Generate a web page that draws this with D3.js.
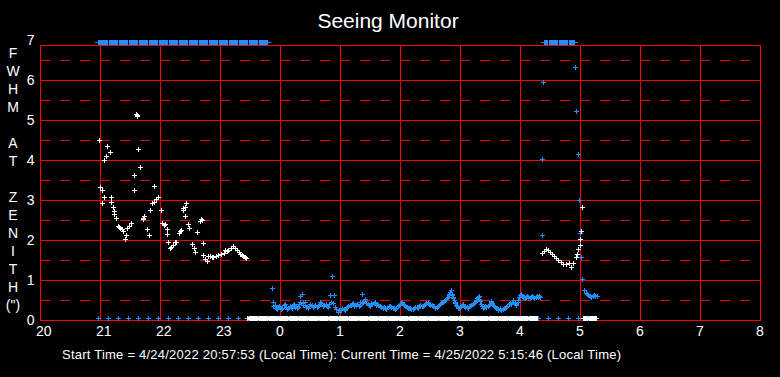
<!DOCTYPE html>
<html>
<head>
<meta charset="utf-8">
<script src="https://cdn.jsdelivr.net/npm/d3@7"></script>
<style>
  body { margin: 0; background: #000; }
  svg { display: block; }
  text { font-family: "Liberation Sans", Arial, sans-serif; fill: #fff; }
</style>
</head>
<body>
<svg id="chart" width="780" height="377"></svg>
<script>
// time is hours counted from midnight of 4/24 (24.5 = 0:30 on 4/25)
const hourTicks = [20, 21, 22, 23, 24, 25, 26, 27, 28, 29, 30, 31, 32];
const fwhmTicks = [0, 1, 2, 3, 4, 5, 6, 7];
const halfTicks = [0.5, 1.5, 2.5, 3.5, 4.5, 5.5, 6.5];
const yTitle = ['F', 'W', 'H', 'M', '', 'A', 'T', '', 'Z', 'E', 'N', 'I', 'T', 'H', '(")'];

// evening session (white)
const whitePts = [
  [20.99, 4.50], [21.00, 3.32], [21.03, 3.25], [21.04, 2.92], [21.06, 3.07], [21.07, 4.00],
  [21.10, 4.10], [21.12, 4.35], [21.16, 4.19], [21.18, 2.94], [21.19, 3.07], [21.21, 2.83],
  [21.23, 2.72], [21.24, 2.64], [21.26, 2.54], [21.30, 2.36], [21.32, 2.33], [21.34, 2.30],
  [21.37, 2.28], [21.39, 2.22], [21.42, 2.02], [21.43, 2.12], [21.45, 2.30], [21.48, 2.35],
  [21.52, 2.43], [21.56, 3.24], [21.57, 3.62], [21.60, 5.15], [21.62, 5.12], [21.61, 5.10],
  [21.64, 4.27], [21.67, 3.82], [21.71, 2.55], [21.72, 2.52], [21.73, 2.59], [21.78, 2.27],
  [21.81, 2.12], [21.84, 2.75], [21.87, 2.92], [21.90, 2.96], [21.90, 3.35], [21.94, 3.02],
  [21.97, 3.08], [22.01, 2.75], [22.04, 2.42], [22.06, 2.38], [22.08, 2.40], [22.11, 2.27],
  [22.12, 2.14], [22.14, 1.96], [22.17, 1.79], [22.19, 1.83], [22.21, 1.88], [22.25, 1.96],
  [22.27, 1.96], [22.31, 2.17], [22.33, 2.22], [22.35, 2.25], [22.38, 2.75], [22.39, 2.79],
  [22.41, 2.60], [22.41, 2.83], [22.43, 2.92], [22.46, 2.40], [22.48, 2.29], [22.53, 1.90],
  [22.56, 1.79], [22.58, 1.71], [22.62, 2.19], [22.66, 2.48], [22.68, 2.52], [22.70, 2.50],
  [22.72, 1.92], [22.72, 1.62], [22.75, 1.52], [22.78, 1.48], [22.80, 1.60], [22.83, 1.60],
  [22.86, 1.58], [22.89, 1.58], [22.93, 1.60], [22.97, 1.62], [23.01, 1.65], [23.06, 1.67],
  [23.08, 1.75], [23.11, 1.72], [23.14, 1.75], [23.18, 1.80], [23.22, 1.86], [23.25, 1.80],
  [23.28, 1.75], [23.31, 1.70], [23.33, 1.65], [23.36, 1.62], [23.39, 1.60], [23.42, 1.57],
  [23.44, 1.54]
];

// morning session (white)
const whitePts2 = [
  [28.36, 1.67], [28.40, 1.72], [28.44, 1.77], [28.47, 1.74], [28.50, 1.71], [28.53, 1.66],
  [28.56, 1.60], [28.60, 1.55], [28.64, 1.50], [28.68, 1.45], [28.72, 1.39], [28.76, 1.40],
  [28.81, 1.42], [28.85, 1.32], [28.89, 1.42], [28.93, 1.57], [28.95, 1.66], [28.97, 1.77],
  [29.00, 1.88], [29.00, 2.02], [29.02, 2.23], [29.04, 2.82]
];

// night series (blue)
const bluePts = [
  [23.86, 0.79], [23.89, 0.46], [23.89, 0.35], [23.93, 0.30], [23.97, 0.32], [24.01, 0.27],
  [24.06, 0.37], [24.10, 0.33], [24.14, 0.29], [24.18, 0.33], [24.22, 0.37], [24.25, 0.33],
  [24.28, 0.29], [24.31, 0.40], [24.33, 0.60], [24.36, 0.65], [24.39, 0.42], [24.42, 0.37],
  [24.44, 0.33], [24.48, 0.36], [24.53, 0.37], [24.57, 0.35], [24.61, 0.33], [24.65, 0.38],
  [24.69, 0.42], [24.73, 0.38], [24.78, 0.35], [24.81, 0.40], [24.83, 0.62], [24.86, 1.10],
  [24.88, 0.42], [24.90, 0.62], [24.92, 0.33], [24.97, 0.21], [25.01, 0.24], [25.06, 0.27],
  [25.10, 0.31], [25.14, 0.35], [25.18, 0.38], [25.22, 0.42], [25.26, 0.38], [25.31, 0.35],
  [25.34, 0.45], [25.36, 0.65], [25.39, 0.46], [25.42, 0.52], [25.46, 0.40], [25.50, 0.35],
  [25.54, 0.40], [25.58, 0.46], [25.62, 0.40], [25.67, 0.35], [25.71, 0.31], [25.75, 0.29],
  [25.79, 0.32], [25.83, 0.35], [25.88, 0.30], [25.92, 0.27], [25.96, 0.35], [26.00, 0.40],
  [26.03, 0.46], [26.07, 0.38], [26.11, 0.33], [26.15, 0.29], [26.19, 0.27], [26.23, 0.30],
  [26.28, 0.33], [26.32, 0.34], [26.36, 0.35], [26.40, 0.38], [26.44, 0.42], [26.48, 0.40],
  [26.53, 0.37], [26.57, 0.35], [26.61, 0.32], [26.65, 0.37], [26.69, 0.42], [26.72, 0.46],
  [26.75, 0.50], [26.78, 0.56], [26.81, 0.62], [26.83, 0.71], [26.86, 0.66], [26.88, 0.58],
  [26.90, 0.50], [26.92, 0.42], [26.95, 0.34], [26.97, 0.29], [27.00, 0.33], [27.03, 0.37],
  [27.07, 0.35], [27.11, 0.32], [27.15, 0.34], [27.19, 0.37], [27.23, 0.42], [27.26, 0.48],
  [27.28, 0.54], [27.31, 0.60], [27.33, 0.47], [27.36, 0.35], [27.40, 0.33], [27.44, 0.32],
  [27.48, 0.37], [27.51, 0.44], [27.53, 0.42], [27.57, 0.35], [27.61, 0.29], [27.64, 0.28],
  [27.67, 0.27], [27.71, 0.28], [27.75, 0.29], [27.79, 0.36], [27.83, 0.42], [27.86, 0.44],
  [27.89, 0.46], [27.92, 0.42], [27.94, 0.37], [27.97, 0.50], [28.00, 0.62], [28.03, 0.60],
  [28.06, 0.57], [28.10, 0.57], [28.14, 0.57], [28.18, 0.58], [28.22, 0.57], [28.26, 0.58],
  [28.30, 0.57], [28.33, 0.57],
  [28.36, 2.12], [28.37, 4.02], [28.39, 5.94], [28.92, 6.32], [28.94, 5.23], [28.97, 4.14],
  [28.99, 3.00], [29.00, 2.17], [29.02, 1.57], [29.03, 1.02], [29.06, 0.75], [29.10, 0.67],
  [29.14, 0.62], [29.17, 0.60], [29.21, 0.60], [29.25, 0.61], [29.28, 0.60]
];

// the in-between blue readings of the night (the ribbon is ~1 reading/min)
const bluePtsFill = [
  [23.91, 0.38], [23.95, 0.27], [23.99, 0.35], [24.03, 0.31], [24.08, 0.40], [24.12, 0.27],
  [24.16, 0.35], [24.20, 0.30], [24.24, 0.40], [24.27, 0.36], [24.30, 0.33], [24.34, 0.45],
  [24.38, 0.37], [24.41, 0.44], [24.46, 0.31], [24.50, 0.40], [24.55, 0.33], [24.59, 0.38],
  [24.63, 0.35], [24.67, 0.44], [24.71, 0.36], [24.76, 0.39], [24.80, 0.32], [24.85, 0.45],
  [24.94, 0.27], [24.99, 0.25], [25.03, 0.30], [25.08, 0.24], [25.12, 0.33], [25.16, 0.38],
  [25.20, 0.40], [25.24, 0.36], [25.28, 0.40], [25.33, 0.38], [25.37, 0.42], [25.41, 0.48],
  [25.44, 0.42], [25.48, 0.37], [25.52, 0.42], [25.56, 0.43], [25.60, 0.38], [25.64, 0.37],
  [25.69, 0.33], [25.73, 0.33], [25.77, 0.27], [25.81, 0.35], [25.85, 0.32], [25.90, 0.29],
  [25.94, 0.31], [25.98, 0.38], [26.02, 0.42], [26.05, 0.41], [26.09, 0.35], [26.13, 0.31],
  [26.17, 0.30], [26.21, 0.28], [26.25, 0.32], [26.30, 0.31], [26.34, 0.37], [26.38, 0.36],
  [26.42, 0.40], [26.46, 0.44], [26.50, 0.38], [26.55, 0.34], [26.59, 0.31], [26.63, 0.34],
  [26.67, 0.40], [26.70, 0.44], [26.74, 0.48], [26.77, 0.52], [26.80, 0.58], [26.82, 0.66],
  [26.85, 0.74], [26.87, 0.62], [26.89, 0.54], [26.91, 0.46], [26.94, 0.38], [26.96, 0.31],
  [26.99, 0.31], [27.02, 0.35], [27.05, 0.39], [27.09, 0.33], [27.13, 0.30], [27.17, 0.36],
  [27.21, 0.40], [27.25, 0.45], [27.27, 0.51], [27.30, 0.57], [27.32, 0.52], [27.35, 0.40],
  [27.38, 0.31], [27.42, 0.35], [27.46, 0.34], [27.50, 0.40], [27.52, 0.47], [27.55, 0.38],
  [27.59, 0.32], [27.63, 0.26], [27.66, 0.30], [27.69, 0.25], [27.73, 0.31], [27.77, 0.33],
  [27.81, 0.39], [27.85, 0.40], [27.88, 0.49], [27.91, 0.44], [27.93, 0.40], [27.96, 0.44],
  [27.99, 0.57], [28.02, 0.64], [28.05, 0.58], [28.08, 0.55], [28.12, 0.59], [28.16, 0.56],
  [28.20, 0.59], [28.24, 0.56], [28.28, 0.59], [28.32, 0.59],
  [29.12, 0.64], [29.19, 0.58], [29.23, 0.62]
];

// blue readings pinned at zero (one each ~10 min)
const zeroTimes = [
  20.97, 21.13, 21.30, 21.47, 21.63, 21.80, 21.97, 22.13, 22.30, 22.47, 22.63, 22.80,
  22.97, 23.13, 23.30, 23.47, 23.63, 23.80, 23.97, 24.13, 24.30, 24.47, 24.63, 24.80,
  24.97, 25.13, 25.30, 25.47, 25.63, 25.80, 25.97, 26.13, 26.30, 26.47, 26.63, 26.80,
  26.97, 27.13, 27.30, 27.47, 27.63, 27.80, 27.97, 28.13, 28.30, 28.47, 28.63, 28.80,
  28.97, 29.13
];
const zeroValue = 0.05;
// runs of white readings pinned at zero
const whiteZeroRuns = [[23.45, 28.30], [29.05, 29.28]];
// runs of blue readings pinned at top of scale
const topValue = 6.94;
const blueTopRuns = [[20.95, 23.82], [28.38, 28.93]];

const svg = d3.select('#chart');
const W = 780, H = 377;
const plotLeft = 40, plotRight = 760, plotTop = 45, plotBottom = 320;
const RED = '#ff0000', BLUE = '#1e90ff', WHITE = '#ffffff';

svg.append('rect').attr('width', W).attr('height', H).attr('fill', '#000');

const x = d3.scaleLinear().domain([20, 32]).range([plotLeft, plotRight]);
const y = d3.scaleLinear().domain([0, 7]).range([plotBottom, 40]);

// grid
const grid = svg.append('g').attr('shape-rendering', 'crispEdges');
grid.selectAll('line.dash')
  .data(halfTicks)
  .enter()
  .append('line')
  .attr('x1', plotLeft).attr('x2', plotRight)
  .attr('y1', (d) => Math.round(y(d)) + 0.5)
  .attr('y2', (d) => Math.round(y(d)) + 0.5)
  .attr('stroke', RED)
  .attr('stroke-dasharray', '10,10');
grid.selectAll('line.h')
  .data(fwhmTicks.filter((d) => d > 0 && d < 7))
  .enter()
  .append('line')
  .attr('x1', plotLeft).attr('x2', plotRight)
  .attr('y1', (d) => Math.round(y(d)) + 0.5)
  .attr('y2', (d) => Math.round(y(d)) + 0.5)
  .attr('stroke', RED);
grid.selectAll('line.v')
  .data(hourTicks.slice(1, -1))
  .enter()
  .append('line')
  .attr('y1', plotTop).attr('y2', plotBottom)
  .attr('x1', (d) => Math.round(x(d)) + 0.5)
  .attr('x2', (d) => Math.round(x(d)) + 0.5)
  .attr('stroke', RED);
grid.append('rect')
  .attr('x', plotLeft + 0.5).attr('y', plotTop + 0.5)
  .attr('width', plotRight - plotLeft).attr('height', plotBottom - plotTop)
  .attr('fill', 'none')
  .attr('stroke', RED);

// tick labels (left-aligned just before each hour line)
svg.append('g')
  .selectAll('text')
  .data(hourTicks)
  .enter()
  .append('text')
  .attr('x', (d) => x(d) - 4)
  .attr('y', 336)
  .attr('font-size', 14)
  .text((d) => d % 24);

svg.append('g')
  .selectAll('text')
  .data(fwhmTicks)
  .enter()
  .append('text')
  .attr('x', 34.5)
  .attr('y', (d) => y(d) + 5)
  .attr('text-anchor', 'end')
  .attr('font-size', 14)
  .text((d) => d);

svg.append('g')
  .selectAll('text')
  .data(yTitle)
  .enter()
  .append('text')
  .attr('x', 13)
  .attr('y', (d, i) => 58 + i * 18)
  .attr('text-anchor', 'middle')
  .attr('font-size', 14)
  .text((d) => d);

svg.append('text')
  .attr('x', 388).attr('y', 28)
  .attr('text-anchor', 'middle')
  .attr('font-size', 21)
  .text('Seeing Monitor');

svg.append('text')
  .attr('x', 62).attr('y', 359)
  .attr('font-size', 13)
  .attr('textLength', 559)
  .attr('lengthAdjust', 'spacing')
  .text('Start Time = 4/24/2022  20:57:53 (Local Time):  Current Time = 4/25/2022 5:15:46 (Local Time)');

// plus marker drawn on the pixel grid
const plus = 'M-2,0.5H3M0.5,-2V3';
function drawPlus(g, pts, color) {
  g.selectAll(null)
    .data(pts)
    .enter()
    .append('path')
    .attr('d', plus)
    .attr('transform', (d) => `translate(${Math.round(x(d[0]))},${Math.round(y(d[1]))})`)
    .attr('stroke', color)
    .attr('fill', 'none');
}

const marks = svg.append('g').attr('shape-rendering', 'crispEdges');

// saturated (top) blue runs
blueTopRuns.forEach(([t1, t2]) => {
  const yc = Math.round(y(topValue));
  marks.append('line')
    .attr('x1', x(t1) - 2).attr('x2', x(t2) + 2)
    .attr('y1', yc + 0.5).attr('y2', yc + 0.5)
    .attr('stroke', BLUE);
  marks.append('rect')
    .attr('x', Math.round(x(t1)) + 1).attr('y', yc - 2)
    .attr('width', Math.round(x(t2) - x(t1)) - 2).attr('height', 5)
    .attr('fill', BLUE);
  zeroTimes.filter((t) => t > t1 + 0.05 && t < t2 - 0.05).forEach((t) => {
    marks.append('rect')
      .attr('x', Math.round(x(t))).attr('y', yc - 2)
      .attr('width', 1).attr('height', 5)
      .attr('fill', '#000');
  });
});

drawPlus(marks, bluePts, BLUE);
drawPlus(marks, bluePtsFill, BLUE);

// white zero runs (outer), then blue zero markers, then white core
const yz = Math.round(y(zeroValue));
whiteZeroRuns.forEach(([t1, t2]) => {
  marks.append('line')
    .attr('x1', x(t1) - 2).attr('x2', x(t2) + 2)
    .attr('y1', yz + 0.5).attr('y2', yz + 0.5)
    .attr('stroke', WHITE);
  marks.append('rect')
    .attr('x', Math.round(x(t1))).attr('y', yz - 2)
    .attr('width', Math.round(x(t2) - x(t1))).attr('height', 5)
    .attr('fill', WHITE);
});
drawPlus(marks, zeroTimes.map((t) => [t, zeroValue]), BLUE);
whiteZeroRuns.forEach(([t1, t2]) => {
  marks.append('rect')
    .attr('x', Math.round(x(t1))).attr('y', yz - 1)
    .attr('width', Math.round(x(t2) - x(t1))).attr('height', 3)
    .attr('fill', WHITE);
});

drawPlus(marks, whitePts, WHITE);
drawPlus(marks, whitePts2, WHITE);
</script>
</body>
</html>
